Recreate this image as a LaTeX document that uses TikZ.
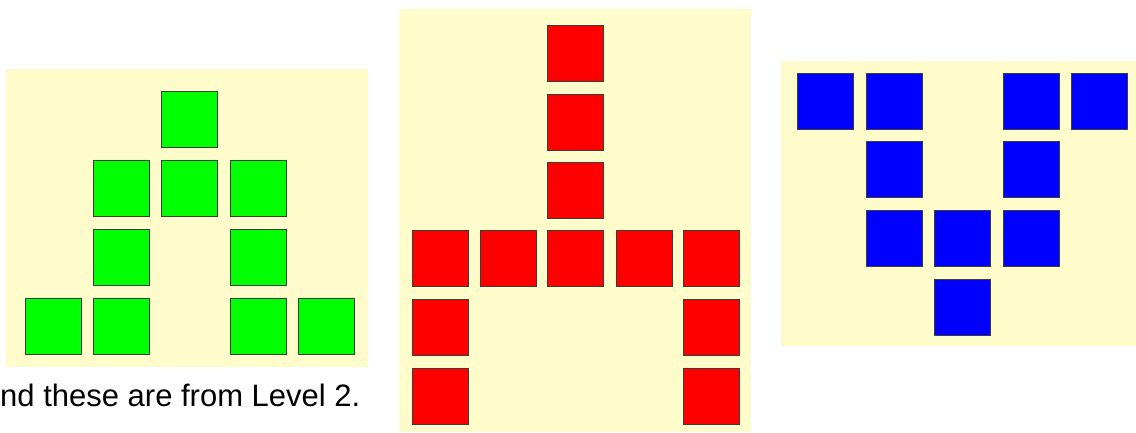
\documentclass[tikz,border=0pt]{standalone}
\usepackage{fontspec}
\setmainfont{Liberation Sans}
\definecolor{cream}{RGB}{255,252,204}
\definecolor{sqedge}{RGB}{60,60,60}
\tikzset{
  panel/.style={fill=cream, draw=none},
  sq/.style={rectangle, minimum size=56pt, inner sep=0pt, outer sep=0pt, draw=sqedge, line width=0.9pt},
  gsq/.style={sq, fill=green},
  rsq/.style={sq, fill=red},
  bsq/.style={sq, fill=blue},
  caption/.style={anchor=base west, inner sep=0pt, font=\fontsize{31}{37}\selectfont, text=black}
}
\begin{document}
\begin{tikzpicture}[x=1pt,y=-1pt]
\useasboundingbox (0,0) rectangle (1136,432);
% panels
\fill[panel] (6,69) rectangle (368,367);
\fill[panel] (399,9) rectangle (751,432);
\fill[panel] (781,61) rectangle (1136,346);
% green squares
\node[gsq] (g02) at (189,119) {};
\node[gsq] (g11) at (121,188) {};
\node[gsq] (g12) at (189,188) {};
\node[gsq] (g13) at (258,188) {};
\node[gsq] (g21) at (121,257) {};
\node[gsq] (g23) at (258,257) {};
\node[gsq] (g30) at (53,326) {};
\node[gsq] (g31) at (121,326) {};
\node[gsq] (g33) at (258,326) {};
\node[gsq] (g34) at (326,326) {};
% red squares
\node[rsq] (r02) at (575,53) {};
\node[rsq] (r12) at (575,122) {};
\node[rsq] (r22) at (575,190) {};
\node[rsq] (r30) at (440,258) {};
\node[rsq] (r31) at (508,258) {};
\node[rsq] (r32) at (575,258) {};
\node[rsq] (r33) at (644,258) {};
\node[rsq] (r34) at (711,258) {};
\node[rsq] (r40) at (440,327) {};
\node[rsq] (r44) at (711,327) {};
\node[rsq] (r50) at (440,396) {};
\node[rsq] (r54) at (711,396) {};
% blue squares
\node[bsq] (b00) at (825,101) {};
\node[bsq] (b01) at (894,101) {};
\node[bsq] (b03) at (1031,101) {};
\node[bsq] (b04) at (1099,101) {};
\node[bsq] (b11) at (894,169) {};
\node[bsq] (b13) at (1031,169) {};
\node[bsq] (b21) at (894,238) {};
\node[bsq] (b22) at (962,238) {};
\node[bsq] (b23) at (1031,238) {};
\node[bsq] (b32) at (962,307) {};
% caption
\node[caption] (cap) at (0,406) {nd these are from Level 2.};
\end{tikzpicture}
\end{document}
